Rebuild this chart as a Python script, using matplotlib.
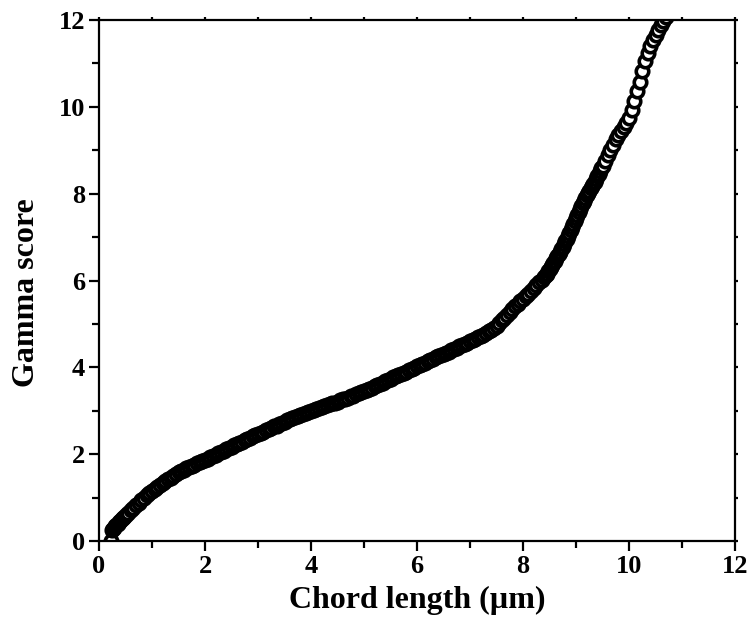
#!/usr/bin/env python3

import matplotlib.pyplot as plt
from matplotlib.ticker import MultipleLocator

plt.rcParams['font.family'] = ['Liberation Serif', 'DejaVu Serif']
plt.rcParams['font.weight'] = 'bold'

# chord length (um) and gamma score
chord = [
    0.22, 0.24, 0.26, 0.28, 0.30, 0.33, 0.35, 0.38, 0.40, 0.43, 0.45, 0.48,
    0.50, 0.55, 0.60, 0.65, 0.70, 0.75, 0.80, 0.85, 0.90, 0.95,
    1.00, 1.05, 1.10, 1.15, 1.20, 1.25, 1.30, 1.35, 1.40, 1.45,
    1.50, 1.55, 1.60, 1.65, 1.70, 1.75, 1.80, 1.85, 1.90, 1.95,
    2.00, 2.05, 2.10, 2.15, 2.20, 2.25, 2.30, 2.35, 2.40, 2.45,
    2.50, 2.55, 2.60, 2.65, 2.70, 2.75, 2.80, 2.85, 2.90, 2.95,
    3.00, 3.05, 3.10, 3.15, 3.20, 3.25, 3.30, 3.35, 3.40, 3.45,
    3.50, 3.55, 3.60, 3.65, 3.70, 3.75, 3.80, 3.85, 3.90, 3.95,
    4.00, 4.05, 4.10, 4.15, 4.20, 4.25, 4.30, 4.35, 4.40, 4.45,
    4.50, 4.55, 4.60, 4.65, 4.70, 4.75, 4.80, 4.85, 4.90, 4.95,
    5.00, 5.05, 5.10, 5.15, 5.20, 5.25, 5.30, 5.35, 5.40, 5.45,
    5.50, 5.55, 5.60, 5.65, 5.70, 5.75, 5.80, 5.85, 5.90, 5.95,
    6.00, 6.05, 6.10, 6.15, 6.20, 6.25, 6.30, 6.35, 6.40, 6.45,
    6.50, 6.55, 6.60, 6.65, 6.70, 6.75, 6.80, 6.85, 6.90, 6.95,
    7.00, 7.05, 7.10, 7.15, 7.20, 7.25, 7.30, 7.35, 7.40, 7.45,
    7.50, 7.55, 7.60, 7.65, 7.70, 7.75, 7.80, 7.85, 7.90, 7.95,
    8.00, 8.05, 8.10, 8.15, 8.20, 8.25, 8.30, 8.35, 8.40, 8.425,
    8.45, 8.475, 8.50, 8.525, 8.55, 8.575, 8.60, 8.625, 8.65, 8.675,
    8.70, 8.725, 8.75, 8.775, 8.80, 8.825, 8.85, 8.875, 8.90, 8.925,
    8.95, 8.975, 9.00, 9.025, 9.05, 9.075, 9.10, 9.125, 9.15, 9.175,
    9.20, 9.225, 9.25, 9.275, 9.30, 9.325, 9.35, 9.375, 9.40, 9.425,
    9.45, 9.475, 9.50, 9.55, 9.60, 9.65, 9.70, 9.75, 9.80, 9.85,
    9.90, 9.95, 10.00, 10.05, 10.10, 10.15, 10.20, 10.25, 10.30, 10.35,
    10.40, 10.45, 10.50, 10.55, 10.60, 10.65, 10.70,
]
gamma = [
    0.00, 0.25, 0.28, 0.31, 0.34, 0.37, 0.40, 0.44, 0.47, 0.50, 0.53, 0.56,
    0.59, 0.65, 0.71, 0.77, 0.83, 0.88, 0.94, 0.99, 1.05, 1.10,
    1.15, 1.20, 1.24, 1.29, 1.33, 1.38, 1.42, 1.46, 1.50, 1.54,
    1.58, 1.61, 1.64, 1.67, 1.70, 1.73, 1.76, 1.79, 1.82, 1.85,
    1.87, 1.90, 1.93, 1.96, 1.99, 2.02, 2.05, 2.08, 2.11, 2.14,
    2.17, 2.20, 2.23, 2.26, 2.29, 2.32, 2.35, 2.38, 2.41, 2.43,
    2.46, 2.49, 2.52, 2.55, 2.58, 2.61, 2.64, 2.66, 2.69, 2.72,
    2.75, 2.78, 2.81, 2.84, 2.86, 2.88, 2.90, 2.93, 2.95, 2.98,
    3.00, 3.02, 3.04, 3.07, 3.09, 3.11, 3.13, 3.15, 3.17, 3.19,
    3.21, 3.24, 3.26, 3.28, 3.30, 3.33, 3.35, 3.38, 3.40, 3.43,
    3.45, 3.47, 3.50, 3.53, 3.56, 3.59, 3.62, 3.65, 3.68, 3.71,
    3.74, 3.77, 3.79, 3.82, 3.84, 3.87, 3.90, 3.93, 3.96, 3.99,
    4.02, 4.05, 4.08, 4.11, 4.14, 4.17, 4.20, 4.23, 4.25, 4.28,
    4.30, 4.33, 4.36, 4.39, 4.42, 4.45, 4.48, 4.51, 4.54, 4.57,
    4.60, 4.63, 4.66, 4.69, 4.72, 4.75, 4.79, 4.83, 4.87, 4.91,
    4.96, 5.02, 5.08, 5.14, 5.21, 5.28, 5.35, 5.41, 5.47, 5.52,
    5.58, 5.64, 5.70, 5.76, 5.82, 5.89, 5.96, 6.02, 6.08, 6.12,
    6.16, 6.21, 6.26, 6.31, 6.36, 6.41, 6.46, 6.51, 6.56, 6.61,
    6.66, 6.72, 6.78, 6.84, 6.90, 6.96, 7.03, 7.09, 7.16, 7.23,
    7.30, 7.37, 7.44, 7.51, 7.58, 7.65, 7.71, 7.78, 7.84, 7.90,
    7.96, 8.02, 8.07, 8.12, 8.17, 8.22, 8.28, 8.34, 8.40, 8.46,
    8.52, 8.58, 8.64, 8.76, 8.88, 9.00, 9.12, 9.25, 9.36, 9.45,
    9.54, 9.63, 9.74, 9.92, 10.14, 10.36, 10.58, 10.82, 11.06, 11.24,
    11.40, 11.53, 11.65, 11.77, 11.88, 11.98, 12.08,
]

fig = plt.figure(figsize=(7.51, 6.37), dpi=100)
ax = fig.add_axes([99 / 751, 1 - 541 / 637, 636 / 751, 521 / 637])

ax.plot(
    chord, gamma,
    linestyle='none', marker='o', markersize=9,
    markerfacecolor='white', markeredgecolor='black', markeredgewidth=2.6,
)

ax.set_xlim(0, 12)
ax.set_ylim(0, 12)
ax.xaxis.set_major_locator(MultipleLocator(2))
ax.xaxis.set_minor_locator(MultipleLocator(1))
ax.yaxis.set_major_locator(MultipleLocator(2))
ax.yaxis.set_minor_locator(MultipleLocator(1))

for side in ax.spines.values():
    side.set_linewidth(1.6)

ax.tick_params(which='both', direction='out', width=1.6, labelsize=19,
               top=True, right=True, pad=3)
ax.tick_params(which='major', length=7)
ax.tick_params(which='minor', length=5)
for t in ax.xaxis.get_major_ticks() + ax.xaxis.get_minor_ticks():
    t.tick2line.set_markersize(2)
for t in ax.yaxis.get_major_ticks() + ax.yaxis.get_minor_ticks():
    t.tick2line.set_markersize(2)

ax.set_xlabel('Chord length (\u00b5m)', fontsize=23, fontweight='bold', labelpad=6)
ax.set_ylabel('Gamma score', fontsize=23, fontweight='bold')
ax.yaxis.set_label_coords(-0.091, 0.476)

fig.savefig('out.png', dpi=100)
